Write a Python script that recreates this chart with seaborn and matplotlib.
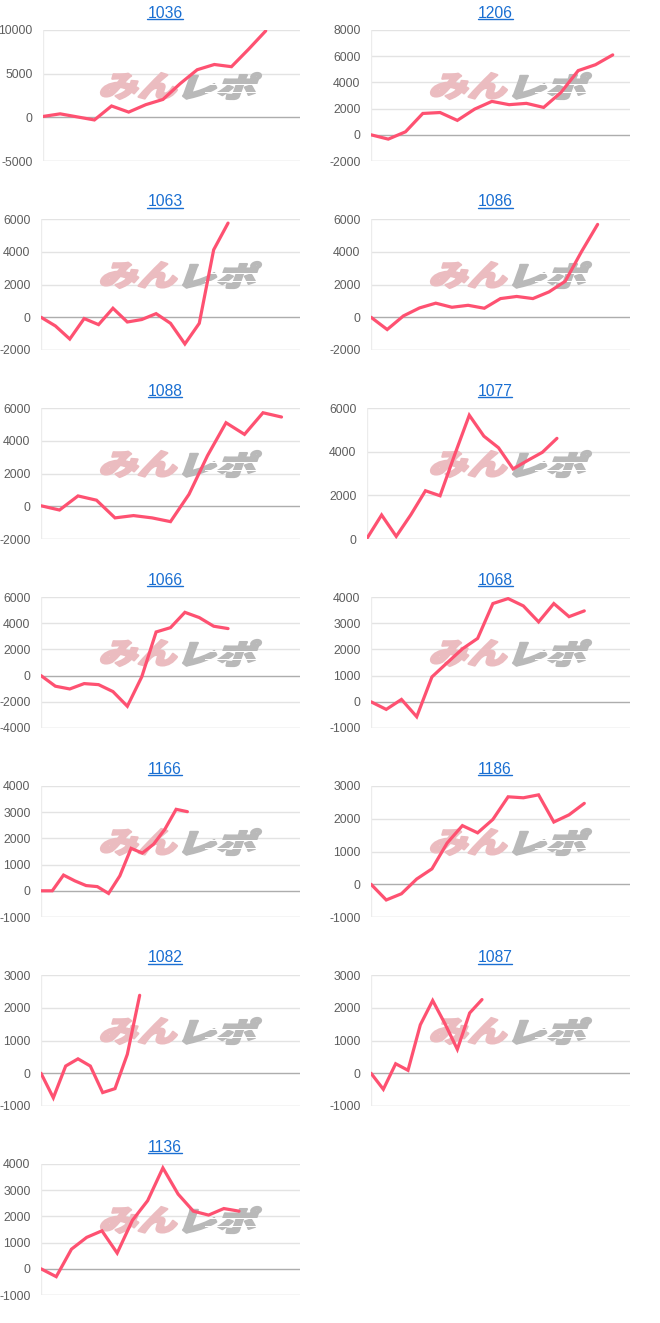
import matplotlib
matplotlib.use("Agg")
import numpy as np
import pandas as pd
import seaborn as sns
import matplotlib.pyplot as plt
from matplotlib.textpath import TextPath
from matplotlib.font_manager import FontProperties
from matplotlib.patches import PathPatch, Rectangle
from matplotlib.transforms import Affine2D, IdentityTransform
from matplotlib.lines import Line2D

# ---------------- data ----------------
titles = ["1036", "1206", "1063", "1086", "1088", "1077", "1066",
          "1068", "1166", "1186", "1082", "1087", "1136"]

v1036 = [100, 400, 50, -300, 1300, 600, 1450, 2050, 3850, 5450, 6050, 5800, 7800, 9900]
v1206 = [0, -330, 230, 1630, 1700, 1100, 1960, 2550, 2300, 2400, 2090, 3230, 4900, 5350, 6100]
v1063 = [0, -530, -1330, -80, -450, 550, -290, -140, 220, -370, -1630, -370, 4120, 5750]
v1086 = [0, -750, 80, 570, 860, 610, 730, 550, 1140, 1270, 1140, 1550, 2200, 4000, 5670]
v1088 = [30, -230, 630, 370, -710, -570, -710, -940, 730, 3090, 5100, 4390, 5710, 5450]
v1077 = [30, 1100, 120, 1110, 2210, 1980, 3860, 5670, 4710, 4180, 3210, 3600, 3970, 4610]
v1066 = [0, -810, -1020, -610, -690, -1220, -2340, -100, 3330, 3660, 4830, 4430, 3770, 3590]
v1068 = [0, -290, 90, -570, 950, 1490, 2020, 2420, 3750, 3940, 3660, 3050, 3750, 3250, 3470]
v1166 = [0, 0, 600, 380, 200, 160, -100, 570, 1620, 1440, 1780, 2350, 3110, 3020]
v1186 = [0, -480, -290, 160, 470, 1260, 1790, 1570, 1980, 2670, 2640, 2730, 1900, 2120, 2470]
v1082 = [0, -750, 220, 440, 220, -590, -470, 580, 2380]
v1087 = [0, -490, 290, 90, 1480, 2220, 1510, 730, 1840, 2250]
v1136 = [0, -300, 750, 1200, 1450, 600, 1850, 2600, 3850, 2850, 2200, 2050, 2300, 2200]

series = [v1036, v1206, v1063, v1086, v1088, v1077, v1066,
          v1068, v1166, v1186, v1082, v1087, v1136]

# x-domain length of each chart (number of slots on the hidden x axis)
x_domain = [15, 15, 18, 16, 14, 18, 18, 17, 23, 17, 21, 21, 17]

y_ticks = [
    [-5000, 0, 5000, 10000],
    [-2000, 0, 2000, 4000, 6000, 8000],
    [-2000, 0, 2000, 4000, 6000],
    [-2000, 0, 2000, 4000, 6000],
    [-2000, 0, 2000, 4000, 6000],
    [0, 2000, 4000, 6000],
    [-4000, -2000, 0, 2000, 4000, 6000],
    [-1000, 0, 1000, 2000, 3000, 4000],
    [-1000, 0, 1000, 2000, 3000, 4000],
    [-1000, 0, 1000, 2000, 3000],
    [-1000, 0, 1000, 2000, 3000],
    [-1000, 0, 1000, 2000, 3000],
    [-1000, 0, 1000, 2000, 3000, 4000],
]

# ---------------- style ----------------
W, H = 660, 1323
sns.set_style("white")
plt.rcParams["font.family"] = ["Liberation Sans", "DejaVu Sans"]

LINE_COLOR = "#fe5171"
TITLE_COLOR = "#1a6fd2"
TICK_COLOR = "#5e5e5e"

fig = plt.figure(figsize=(W / 100, H / 100), dpi=100)
fig.patch.set_facecolor("white")

plot_left = [43, 41, 41, 41, 41, 37, 41, 41, 41, 41, 41, 41, 41]
PLOT_RIGHT_OFF = 300
PLOT_H = 131
ROW_PITCH = 189
FIRST_TOP = 30

cjk = FontProperties(family="Noto Sans CJK JP", weight="black")


def logo_patch(text, x0, x1, ytop, ybot, color):
    tp = TextPath((0, 0), text, size=40, prop=cjk)
    p = Affine2D().skew_deg(14, 0).transform_path(tp)
    ext = p.get_extents()
    sx = (x1 - x0) / ext.width
    sy = (ybot - ytop) / ext.height
    tr = (Affine2D().translate(-ext.x0, -ext.y0)
          .scale(sx, sy).translate(x0, H - ybot))
    return PathPatch(tr.transform_path(p), facecolor=color, edgecolor=color,
                     linewidth=1.6, joinstyle="round",
                     transform=IdentityTransform(), zorder=1.5)


title_objs = []
for i, (name, vals) in enumerate(zip(titles, series)):
    col, row = i % 2, i // 2
    ox = col * 330
    left = ox + plot_left[i]
    right = ox + PLOT_RIGHT_OFF
    top = FIRST_TOP + ROW_PITCH * row
    ax = fig.add_axes([left / W, 1 - (top + PLOT_H) / H,
                       (right - left) / W, PLOT_H / H])
    df = pd.DataFrame({"x": np.arange(len(vals)), "y": vals})
    ticks = y_ticks[i]

    # grid
    for t in ticks:
        if t == 0:
            continue
        c = "#cccccc" if t == ticks[0] else "#e3e3e3"
        ax.axhline(t, color=c, lw=1, zorder=1)
    ax.axvline(0, color="#ececec", lw=1, zorder=1)
    ax.axhline(0, color="#adadad", lw=1, zorder=1.2)

    # watermark logo
    rtop = top - 30
    ax.add_patch(logo_patch("みん", ox + 101, ox + 177, rtop + 73, rtop + 99, "#ebbcc0"))
    ax.add_patch(logo_patch("レポ", ox + 183, ox + 261, rtop + 73, rtop + 99, "#b9b9b9"))
    # speed stripes through the grey part of the logo
    for sy in (rtop + 84, rtop + 92):
        ax.add_patch(Rectangle((ox + 205, H - sy - 1), 58, 1.3, facecolor="white",
                               edgecolor="none", transform=IdentityTransform(),
                               zorder=1.6))

    sns.lineplot(data=df, x="x", y="y", ax=ax, color=LINE_COLOR,
                 linewidth=2.3, zorder=3, solid_joinstyle="miter")

    ax.set_xlim(0, x_domain[i])
    ax.set_ylim(ticks[0], ticks[-1])
    ax.set_yticks(ticks)
    ax.set_yticklabels([str(t) for t in ticks])
    ax.set_xticks([])
    ax.set_xlabel("")
    ax.set_ylabel("")
    ax.tick_params(axis="y", length=0, pad=7.5, labelsize=8.8, labelcolor=TICK_COLOR)
    for s in ax.spines.values():
        s.set_visible(False)
    ax.patch.set_alpha(0)

    t = fig.text((ox + 165) / W, 1 - (top - 12.5) / H, name, ha="center",
                 va="baseline", fontsize=11.3, color=TITLE_COLOR)
    title_objs.append((t, top))

fig.canvas.draw()
r = fig.canvas.get_renderer()
for t, top in title_objs:
    bb = t.get_window_extent(renderer=r)
    y = H - (top - 11.0)
    fig.add_artist(Line2D([bb.x0, bb.x1], [y, y], transform=IdentityTransform(),
                          color=TITLE_COLOR, lw=1.0))

fig.savefig("out.png", dpi=100, facecolor="white")
